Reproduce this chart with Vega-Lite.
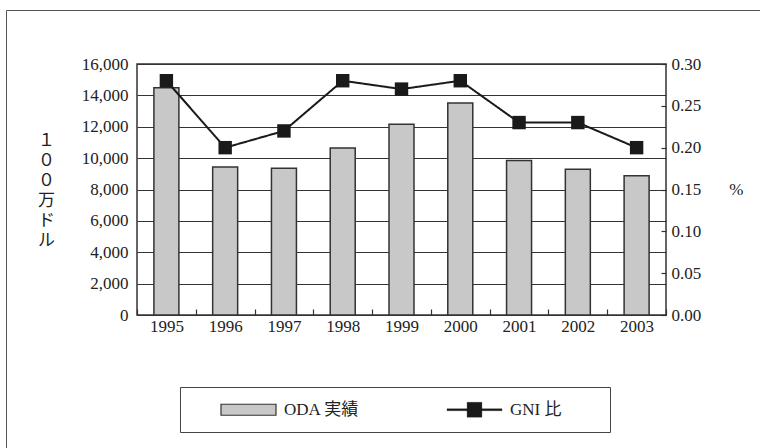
{
  "$schema": "https://vega.github.io/schema/vega-lite/v6.json",
  "width": 529,
  "height": 251,
  "autosize": "none",
  "padding": {"left": 137, "top": 64, "right": 94, "bottom": 133},
  "background": "white",
  "config": {
    "font": "'Liberation Serif', 'Noto Sans CJK JP', serif",
    "view": {"stroke": "#333", "strokeWidth": 1.5},
    "axis": {"labelFont": "'Liberation Serif', 'Noto Sans CJK JP', serif", "labelFontSize": 17, "labelColor": "#222", "titleFont": "'Liberation Serif', 'Noto Sans CJK JP', serif", "titleFontSize": 17, "titleFontWeight": "normal", "titleColor": "#222", "tickColor": "#333", "tickWidth": 1.2}
  },
  "data": {"values": [
    {"year": "1995", "oda": 14489, "gni": 0.28},
    {"year": "1996", "oda": 9439, "gni": 0.20},
    {"year": "1997", "oda": 9358, "gni": 0.22},
    {"year": "1998", "oda": 10640, "gni": 0.28},
    {"year": "1999", "oda": 12163, "gni": 0.27},
    {"year": "2000", "oda": 13508, "gni": 0.28},
    {"year": "2001", "oda": 9847, "gni": 0.23},
    {"year": "2002", "oda": 9283, "gni": 0.23},
    {"year": "2003", "oda": 8880, "gni": 0.20}
  ]},
  "layer": [
    {
      "mark": {"type": "bar", "width": 25, "stroke": "#333", "strokeWidth": 1.5},
      "encoding": {
        "x": {"field": "year", "type": "ordinal", "scale": {"paddingInner": 0, "paddingOuter": 0},
          "axis": {"title": null, "labelAngle": 0, "domain": false, "tickBand": "extent", "tickSize": -6, "labelPadding": 9}},
        "y": {"field": "oda", "type": "quantitative", "scale": {"domain": [0, 16000], "nice": false},
          "axis": {"values": [0, 2000, 4000, 6000, 8000, 10000, 12000, 14000, 16000], "format": ",.0f", "grid": true, "gridColor": "#333", "gridWidth": 1, "ticks": false, "domain": false, "labelPadding": 9,
            "title": ["１", "０", "０", "万", "ド", "ル"], "titleAngle": 0, "titleLineHeight": 20, "titleAlign": "center", "titleBaseline": "middle", "titleX": -91, "titleY": 76}},
        "color": {"datum": "ODA 実績", "type": "nominal",
          "scale": {"domain": ["ODA 実績", "GNI 比"], "range": ["#c8c8c8", "#1a1a1a"]},
          "legend": {"title": "MM", "titleOrient": "right", "titleOpacity": 0, "titleFontSize": 17, "titleFontWeight": "normal", "titlePadding": 4,
            "orient": "none", "legendX": 43, "legendY": 323, "direction": "horizontal", "columns": 2, "columnPadding": 60,
            "padding": 14, "strokeColor": "#444", "symbolOffset": 46, "symbolSize": 3025, "symbolStrokeWidth": 1.2, "symbolStrokeColor": "#333",
            "labelFont": "'Liberation Serif', 'Noto Sans CJK JP', serif", "labelFontSize": 17, "labelColor": "#222", "labelOffset": 27, "labelLimit": 300,
            "encode": {"symbols": {"update": {
              "shape": {"signal": "datum.value == 'GNI 比' ? 'M-1,-0.036H1V0.036H-1Z M-0.27,-0.27H0.27V0.27H-0.27Z' : 'M-1,-0.2H1V0.2H-1Z'"},
              "size": {"value": 3025},
              "fill": {"signal": "datum.value == 'GNI 比' ? '#1a1a1a' : '#c8c8c8'"},
              "stroke": {"signal": "datum.value == 'GNI 比' ? '#1a1a1a' : '#333'"},
              "strokeWidth": {"signal": "datum.value == 'GNI 比' ? 0.3 : 1.2"},
              "opacity": {"value": 1}
            }}}}}
      }
    },
    {
      "encoding": {
        "x": {"field": "year", "type": "ordinal"},
        "y": {"field": "gni", "type": "quantitative", "scale": {"domain": [0, 0.3], "nice": false},
          "axis": {"orient": "right", "values": [0, 0.05, 0.1, 0.15, 0.2, 0.25, 0.3], "format": ".2f", "grid": false, "domain": false, "tickSize": -5, "labelPadding": 10,
            "title": "%", "titleAngle": 0, "titleAlign": "left", "titleBaseline": "middle", "titlePadding": 28}}
      },
      "layer": [
        {
          "mark": {"type": "line", "color": "#1a1a1a", "strokeWidth": 2},
          "encoding": {
            "strokeDash": {"datum": "frame", "type": "nominal", "scale": {"range": [[1, 0]]},
              "legend": {"title": null, "orient": "none", "legendX": -131, "legendY": -54, "padding": 420, "strokeColor": "#555", "symbolOpacity": 0, "labelOpacity": 0}}
          }
        },
        {
          "mark": {"type": "point", "shape": "square", "filled": true, "size": 180, "opacity": 1},
          "encoding": {
            "color": {"datum": "GNI 比", "type": "nominal"}
          }
        }
      ]
    }
  ],
  "resolve": {"scale": {"y": "independent"}}
}
